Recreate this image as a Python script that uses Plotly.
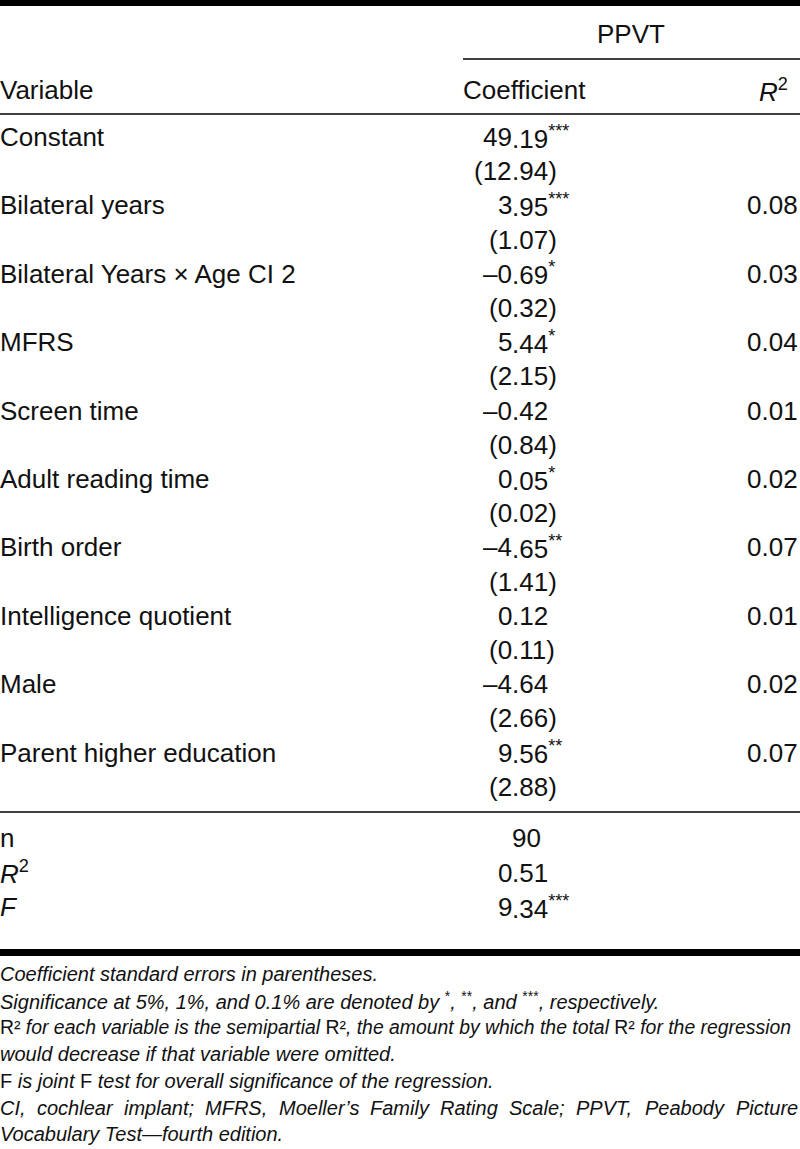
import plotly.graph_objects as go

# --------------------------------------------------
# Table content
# --------------------------------------------------
variables = [
    "Constant",
    "Bilateral years",
    "Bilateral Years × Age CI 2",
    "MFRS",
    "Screen time",
    "Adult reading time",
    "Birth order",
    "Intelligence quotient",
    "Male",
    "Parent higher education",
]
coefs = ["49.19", "3.95", "–0.69", "5.44", "–0.42", "0.05", "–4.65", "0.12", "–4.64", "9.56"]
stars = ["***", "***", "*", "*", "", "*", "**", "", "", "**"]
std_errs = ["12.94", "1.07", "0.32", "2.15", "0.84", "0.02", "1.41", "0.11", "2.66", "2.88"]
semipartial_r2 = ["", "0.08", "0.03", "0.04", "0.01", "0.02", "0.07", "0.01", "0.02", "0.07"]

summary_labels = ["n", "<i>R</i><sup>2</sup>", "<i>F</i>"]
summary_values = ["90", "0.51", "9.34"]
summary_stars = ["", "", "***"]

footnotes = [
    "<i>Coefficient standard errors in parentheses.</i>",
    "<i>Significance at 5%, 1%, and 0.1% are denoted by </i><sup>*</sup><i>, </i>"
    "<sup>**</sup><i>, and </i><sup>***</sup><i>, respectively.</i>",
    "R²<i> for each variable is the semipartial </i>R²"
    "<i>, the amount by which the total </i>R²<i> for the regression</i>",
    "<i>would decrease if that variable were omitted.</i>",
    "F<i> is joint </i>F<i> test for overall significance of the regression.</i>",
    None,  # justified line, drawn word by word
    "<i>Vocabulary Test—fourth edition.</i>",
]
justified_words = ["CI,", "cochlear", "implant;", "MFRS,", "Moeller’s", "Family",
                   "Rating", "Scale;", "PPVT,", "Peabody", "Picture"]

# --------------------------------------------------
# Layout constants (pixel space)
# --------------------------------------------------
W, H = 800, 1149
FONT = "Liberation Sans, Arial, Helvetica, sans-serif"
MAIN = 26
NOTE = 20
NOTE_SIZES = [NOTE, NOTE, 19.4, NOTE, NOTE, NOTE, NOTE]
INK = "#111111"
DEC_X = 512          # decimal point of the coefficient column
R2_X = 798           # right edge of the R2 column
ROW0, ROW_STEP = 137, 34.2
NOTE0, NOTE_STEP = 974, 26.7
# left edges of the words in the justified footnote line
WORD_X = [0, 37, 124, 205, 279, 370, 440, 509, 576, 645]

fig = go.Figure()
annotations = []


def add_text(x, y, text, anchor="left", size=MAIN):
    annotations.append(
        dict(
            x=x, y=y, xref="x", yref="y", text=text, showarrow=False,
            xanchor=anchor, yanchor="middle", borderpad=0, borderwidth=0,
            font=dict(family=FONT, size=size, color=INK),
        )
    )


def add_decimal(y, value, suffix=""):
    i = value.index(".")
    add_text(DEC_X, y, value[:i], "right")
    add_text(DEC_X, y, value[i:] + suffix, "left")


# Header
add_text(631, 34, "PPVT", "center")
add_text(0, 90, "Variable")
add_text(463, 90, "Coefficient")
add_text(788, 90, "<i>R</i><sup>2</sup>", "right")

# Body rows: coefficient line + standard error line per variable
for k, name in enumerate(variables):
    y = ROW0 + ROW_STEP * 2 * k
    add_text(0, y, name)
    add_decimal(y, coefs[k], f"<sup>{stars[k]}</sup>" if stars[k] else "")
    if semipartial_r2[k]:
        add_text(R2_X, y, semipartial_r2[k], "right")
    se = std_errs[k]
    i = se.index(".")
    y2 = y + ROW_STEP
    add_text(DEC_X, y2, "(" + se[:i], "right")
    add_text(DEC_X, y2, se[i:] + ")", "left")

# Summary rows
for k, lab in enumerate(summary_labels):
    y = 838 + 34.5 * k
    add_text(0, y, lab)
    val = summary_values[k]
    suffix = f"<sup>{summary_stars[k]}</sup>" if summary_stars[k] else ""
    if "." in val:
        add_decimal(y, val, suffix)
    else:
        add_text(DEC_X, y, val + suffix, "left")

# Footnotes
for i, note in enumerate(footnotes):
    y = NOTE0 + NOTE_STEP * i
    if note is not None:
        add_text(0, y, note, size=NOTE_SIZES[i])
    else:
        for wx, word in zip(WORD_X, justified_words[:-1]):
            add_text(wx, y, f"<i>{word}</i>", size=NOTE)
        add_text(798, y, f"<i>{justified_words[-1]}</i>", "right", size=NOTE)

# Rules
shapes = [
    dict(type="rect", x0=0, x1=W, y0=-1, y1=6, fillcolor="black", line_width=0),
    dict(type="line", x0=463, x1=W, y0=59, y1=59, line=dict(color="black", width=1.5)),
    dict(type="line", x0=0, x1=W, y0=114, y1=114, line=dict(color="black", width=1.5)),
    dict(type="line", x0=0, x1=W, y0=812, y1=812, line=dict(color="black", width=1.5)),
    dict(type="rect", x0=0, x1=W, y0=949, y1=956, fillcolor="black", line_width=0),
]

fig.update_layout(
    width=W,
    height=H,
    margin=dict(l=0, r=0, t=0, b=0),
    paper_bgcolor="white",
    plot_bgcolor="white",
    showlegend=False,
    annotations=annotations,
    shapes=shapes,
    xaxis=dict(range=[0, W], visible=False, fixedrange=True),
    yaxis=dict(range=[H, 0], visible=False, fixedrange=True),
)

fig.write_html(
    "out.html",
    config={"displayModeBar": False},
    post_script="document.body.style.margin='0';document.body.style.overflow='hidden';",
)
